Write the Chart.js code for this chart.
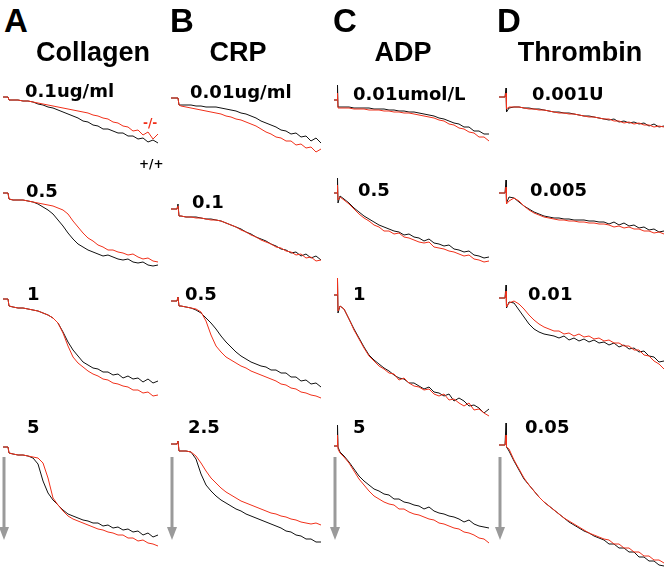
<!DOCTYPE html>
<html>
<head>
<meta charset="utf-8">
<script src="https://cdn.jsdelivr.net/npm/chart.js@4.4.1/dist/chart.umd.min.js"></script>
<style>
  body { margin: 0; background: #fff; }
  #fig { position: relative; width: 666px; height: 578px; overflow: hidden; font-family: "Liberation Sans", Arial, sans-serif; }
  #fig canvas { position: absolute; }
  .t { position: absolute; white-space: nowrap; line-height: 1; font-weight: bold; color: #000; }
  .letter { font-size: 33px; }
  .agonist { font-size: 27px; transform: translateX(-50%); }
  .dose { font-family: "DejaVu Sans", sans-serif; font-size: 18px; }
  .geno { font-family: "DejaVu Sans", sans-serif; font-size: 12px; }
</style>
</head>
<body>
<div id="fig"></div>
<script>
// time points (s) for each agonist column
const collagenTime = [0,10,12,20,30,40,50,60,70,80,90,100,110,120,130,140,150,160,170,180,190,200,210,220,230,240,250,260,270,280,290,300,310];
const crpTime = [0,12,14,16,20,30,40,50,60,70,80,90,100,110,120,130,140,150,160,170,180,190,200,210,220,230,240,250,260,270,280,290,300];
const adpTime = [0,6,7,8,12,20,30,40,50,60,70,80,90,100,110,120,130,140,150,160,170,180,190,200,210,220,230,240,250,260,270,280,290,300,310];
const thrombinTime = [0,12,14,15,20,30,40,50,60,70,80,90,100,110,120,130,140,150,160,170,180,190,200,210,220,230,240,250,260,270,280,290,300,310,320,330];

// aggregation (light transmission change, a.u.) : Wt = +/+ (black), Ko = -/- (red)
const collagen01Wt = [2,2,5, 5,5,6,6,7,9,10,12,13,15, 17,19,21,23,26,27,30,31,34,34, 36,38,38,41,41,44,43,47,45,48];
const collagen01Ko = [2,2,5, 5,5,6,6,7,8,9,10,11,12, 13,14,15,16,17,18,20,21,23,24, 27,28,31,32,36,35,40,37,44,39];
const collagen05Wt = [3,3,9, 10,10,10,11,12,14,17,20,24,30, 36,43,49,54,57,60,62,64,66,65, 67,69,70,69,72,73,72,75,76,75];
const collagen05Ko = [3,3,9, 10,10,10,11,12,13,14,15,16,18, 20,24,31,37,43,48,51,55,57,60, 60,62,63,65,64,67,69,68,71,72];
const collagen1Wt = [2,2,9, 10,11,11,12,13,14,16,18,21,26, 35,45,53,59,65,68,71,72,75,75, 78,77,81,79,82,81,85,82,86,84];
const collagen1Ko = [2,2,9, 10,11,11,12,13,14,16,18,21,26, 36,49,60,66,70,74,77,79,82,83, 86,87,89,90,93,93,96,95,99,98];
const collagen5Wt = [4,4,10, 11,12,12,13,15,21,38,50,57,62, 67,71,73,75,77,78,80,80,83,82, 85,84,87,86,89,88,92,90,94,92];
const collagen5Ko = [4,4,10, 11,12,12,13,14,15,20,35,55,62, 68,73,76,78,80,82,84,86,87,89, 90,92,92,95,95,98,97,100,101,103];

const crp001Wt = [3,3,3,10, 10,10,10,11,11,12,12,12,13,14, 15,16,18,19,21,23,26,28,30,32, 35,36,39,38,42,41,46,43,48];
const crp001Ko = [3,3,3,10, 11,12,13,14,15,16,17,18,19,21, 22,24,25,27,29,31,34,37,39,42, 43,46,46,50,49,53,52,57,54];
const crp01Wt = [19,19,14,26, 26,27,27,27,28,29,29,30,31,33, 35,37,39,42,44,47,49,51,54,56, 59,60,63,62,66,64,68,66,70];
const crp01Ko = [19,19,16,26, 26,27,27,28,28,29,30,30,31,33, 35,37,40,42,45,47,50,52,54,57, 58,61,62,65,64,68,67,71,70];
const crp05Wt = [4,4,0,9, 9,10,11,13,16,21,26,32,39,45, 50,55,59,62,65,67,69,70,73,73, 76,76,80,80,84,83,87,86,90];
const crp05Ko = [4,4,0,9, 9,10,11,12,15,24,38,49,55,60, 63,66,69,71,74,76,78,80,82,84, 87,88,91,92,95,96,98,99,101];
const crp25Wt = [1,1,-2,8, 8,8,9,16,31,42,48,53,57,60, 63,66,68,71,73,75,77,79,81,83, 85,88,89,92,93,96,96,99,99];
const crp25Ko = [1,1,-2,8, 8,8,9,13,20,28,35,40,45,49, 52,55,58,60,62,64,66,68,70,71, 73,74,76,77,79,80,81,80,82];

const adp001Wt = [5,5,-10,12,12, 12,12,13,13,13,13,14,14,14,15, 15,16,16,17,17,18,19,20,21,23, 24,26,28,29,32,32,36,36,39,39];
const adp001Ko = [5,5,-2,13,13, 13,13,14,14,14,15,15,15,16,16, 17,17,18,18,19,20,21,22,23,25, 26,29,30,33,34,37,38,42,42,46];
const adp05Wt = [3,3,-12,13,6, 9,13,18,22,26,29,32,35,37,39, 41,42,45,44,47,48,51,49,53,54, 56,55,59,60,62,61,65,66,68,67];
const adp05Ko = [3,3,-5,10,7, 10,14,19,24,28,31,35,37,41,41, 44,43,47,48,50,52,53,52,57,58, 59,61,62,64,66,65,69,70,72,71];
const adp1Wt = [-2,-2,-17,16,9, 12,22,32,41,50,58,63,67,71,74, 78,81,82,86,86,89,92,90,95,96, 99,97,104,101,104,109,108,111,116,112];
const adp1Ko = [-2,-2,-19,14,9, 12,22,33,42,51,59,64,69,72,76, 77,83,81,86,89,90,93,92,97,99, 97,103,102,106,109,106,113,112,116,119];
const adp5Wt = [3,3,-18,4,9, 13,19,26,33,38,42,46,48,51,52, 56,56,59,60,62,63,66,64,68,70, 71,73,74,76,79,77,81,83,84,85];
const adp5Ko = [3,3,-8,6,10, 14,20,28,36,42,48,53,56,59,61, 62,66,66,69,71,72,74,76,77,80, 81,83,85,86,89,90,92,95,96,100];

const thr0001Wt = [2,2,-7,17, 13,12,12,13,13,14,14,15,16,17, 17,18,18,19,20,21,21,22,23,24, 25,24,27,26,28,27,29,28,31,29,32,31];
const thr0001Ko = [2,2,-2,14, 12,12,12,13,14,14,15,15,16,17, 18,18,19,19,20,21,22,22,23,24, 24,26,26,28,27,29,28,30,30,32,31,32];
const thr0005Wt = [3,3,-10,13, 7,8,12,16,19,22,24,26,27,28, 28,29,29,30,30,30,31,31,32,32, 34,32,35,33,36,35,38,37,40,39,42,41];
const thr0005Ko = [3,3,-3,14, 11,8,11,16,20,23,25,27,28,29, 30,30,31,31,32,32,33,33,34,34, 35,37,36,38,37,39,39,41,41,43,42,44];
const thr001Wt = [1,1,-12,11, 5,6,13,20,27,32,35,37,38,39, 41,39,43,41,44,42,45,43,46,45, 48,46,50,48,52,51,55,54,59,60,65,64];
const thr001Ko = [1,1,-6,10, 6,4,7,12,18,23,27,30,32,34, 34,37,36,39,37,40,39,42,41,44, 43,46,46,49,49,53,53,58,59,64,67,72];
const thr005Wt = [2,2,-20,4, 8,18,27,36,42,48,54,59,63,67, 71,75,79,82,85,88,90,93,95,97, 101,101,105,105,109,109,114,114,118,118,122,123];
const thr005Ko = [2,2,-8,4, 6,17,26,35,42,48,54,59,63,67, 71,75,78,81,84,87,90,92,94,96, 97,101,101,105,105,109,109,113,113,117,117,120];

const panelLetters = ['A', 'B', 'C', 'D'];
const agonists = ['Collagen', 'CRP', 'ADP', 'Thrombin'];
const doses = [
  ['0.1ug/ml', '0.5', '1', '5'],
  ['0.01ug/ml', '0.1', '0.5', '2.5'],
  ['0.01umol/L', '0.5', '1', '5'],
  ['0.001U', '0.005', '0.01', '0.05'],
];
const genotypes = ['-/-', '+/+'];

// arrow marking the aggregation direction (a.u. from top to tip)
const arrowSpan = [14, 97];

const columns = [
  { time: collagenTime, wt: [collagen01Wt, collagen05Wt, collagen1Wt, collagen5Wt], ko: [collagen01Ko, collagen05Ko, collagen1Ko, collagen5Ko] },
  { time: crpTime, wt: [crp001Wt, crp01Wt, crp05Wt, crp25Wt], ko: [crp001Ko, crp01Ko, crp05Ko, crp25Ko] },
  { time: adpTime, wt: [adp001Wt, adp05Wt, adp1Wt, adp5Wt], ko: [adp001Ko, adp05Ko, adp1Ko, adp5Ko] },
  { time: thrombinTime, wt: [thr0001Wt, thr0005Wt, thr001Wt, thr005Wt], ko: [thr0001Ko, thr0005Ko, thr001Ko, thr005Ko] },
];

// layout
const colX = [3, 171, 334, 499];
const rowY = [95, 190, 297, 443];
const PAD = 4;
const RED = '#f0301a';
const BLACK = '#111111';

const fig = document.getElementById('fig');

const arrowPlugin = {
  id: 'arrow',
  afterDatasetsDraw(chart, args, opts) {
    if (!opts.show) return;
    const { ctx, scales } = chart;
    const x = scales.x.getPixelForValue(2);
    const y1 = scales.y.getPixelForValue(arrowSpan[0]);
    const y2 = scales.y.getPixelForValue(arrowSpan[1]);
    ctx.save();
    ctx.strokeStyle = '#9a9a9a';
    ctx.fillStyle = '#9a9a9a';
    ctx.lineWidth = 3;
    ctx.beginPath();
    ctx.moveTo(x, y1);
    ctx.lineTo(x, y2 - 12);
    ctx.stroke();
    ctx.beginPath();
    ctx.moveTo(x - 5, y2 - 13);
    ctx.lineTo(x + 5, y2 - 13);
    ctx.lineTo(x, y2);
    ctx.closePath();
    ctx.fill();
    ctx.restore();
  }
};

columns.forEach((col, c) => {
  for (let r = 0; r < 4; r++) {
    const canvas = document.createElement('canvas');
    canvas.width = 170 + PAD * 2;
    canvas.height = 155 + PAD * 2;
    canvas.style.left = (colX[c] - PAD) + 'px';
    canvas.style.top = (rowY[r] - 25 - PAD) + 'px';
    fig.appendChild(canvas);

    new Chart(canvas.getContext('2d'), {
      type: 'line',
      data: {
        labels: col.time,
        datasets: [
          { data: col.ko[r], borderColor: RED, borderWidth: 1 },
          { data: col.wt[r], borderColor: BLACK, borderWidth: 1 },
        ],
      },
      options: {
        responsive: false,
        animation: false,
        events: [],
        layout: { padding: PAD },
        elements: { point: { radius: 0 }, line: { tension: 0 } },
        scales: {
          x: { type: 'linear', min: 0, max: 340, display: false },
          y: { min: -25, max: 130, reverse: true, display: false },
        },
        plugins: {
          legend: { display: false },
          tooltip: { enabled: false },
          arrow: { show: r === 3 },
        },
      },
      plugins: [arrowPlugin],
    });
  }
});

function addText(txt, cls, left, top) {
  const d = document.createElement('div');
  d.className = 't ' + cls;
  d.textContent = txt;
  d.style.left = left + 'px';
  d.style.top = top + 'px';
  fig.appendChild(d);
  return d;
}

const letterX = [4, 170, 333, 497];
const titleX = [93, 238, 403, 580];
const doseX = [
  [25, 26, 27, 27],
  [190, 192, 185, 188],
  [353, 358, 353, 353],
  [532, 530, 528, 525],
];
const doseBase = [
  [97, 197, 300, 433],
  [98, 208, 300, 433],
  [100, 196, 300, 433],
  [100, 196, 300, 433],
];

panelLetters.forEach((l, c) => {
  addText(l, 'letter', letterX[c], 4);
  addText(agonists[c], 'agonist', titleX[c], 39);
  doses[c].forEach((d, r) => addText(d, 'dose', doseX[c][r], doseBase[c][r] - 15));
});

addText(genotypes[0], 'geno', 143, 117).style.color = RED;
addText(genotypes[1], 'geno', 139, 158);
</script>
</body>
</html>
